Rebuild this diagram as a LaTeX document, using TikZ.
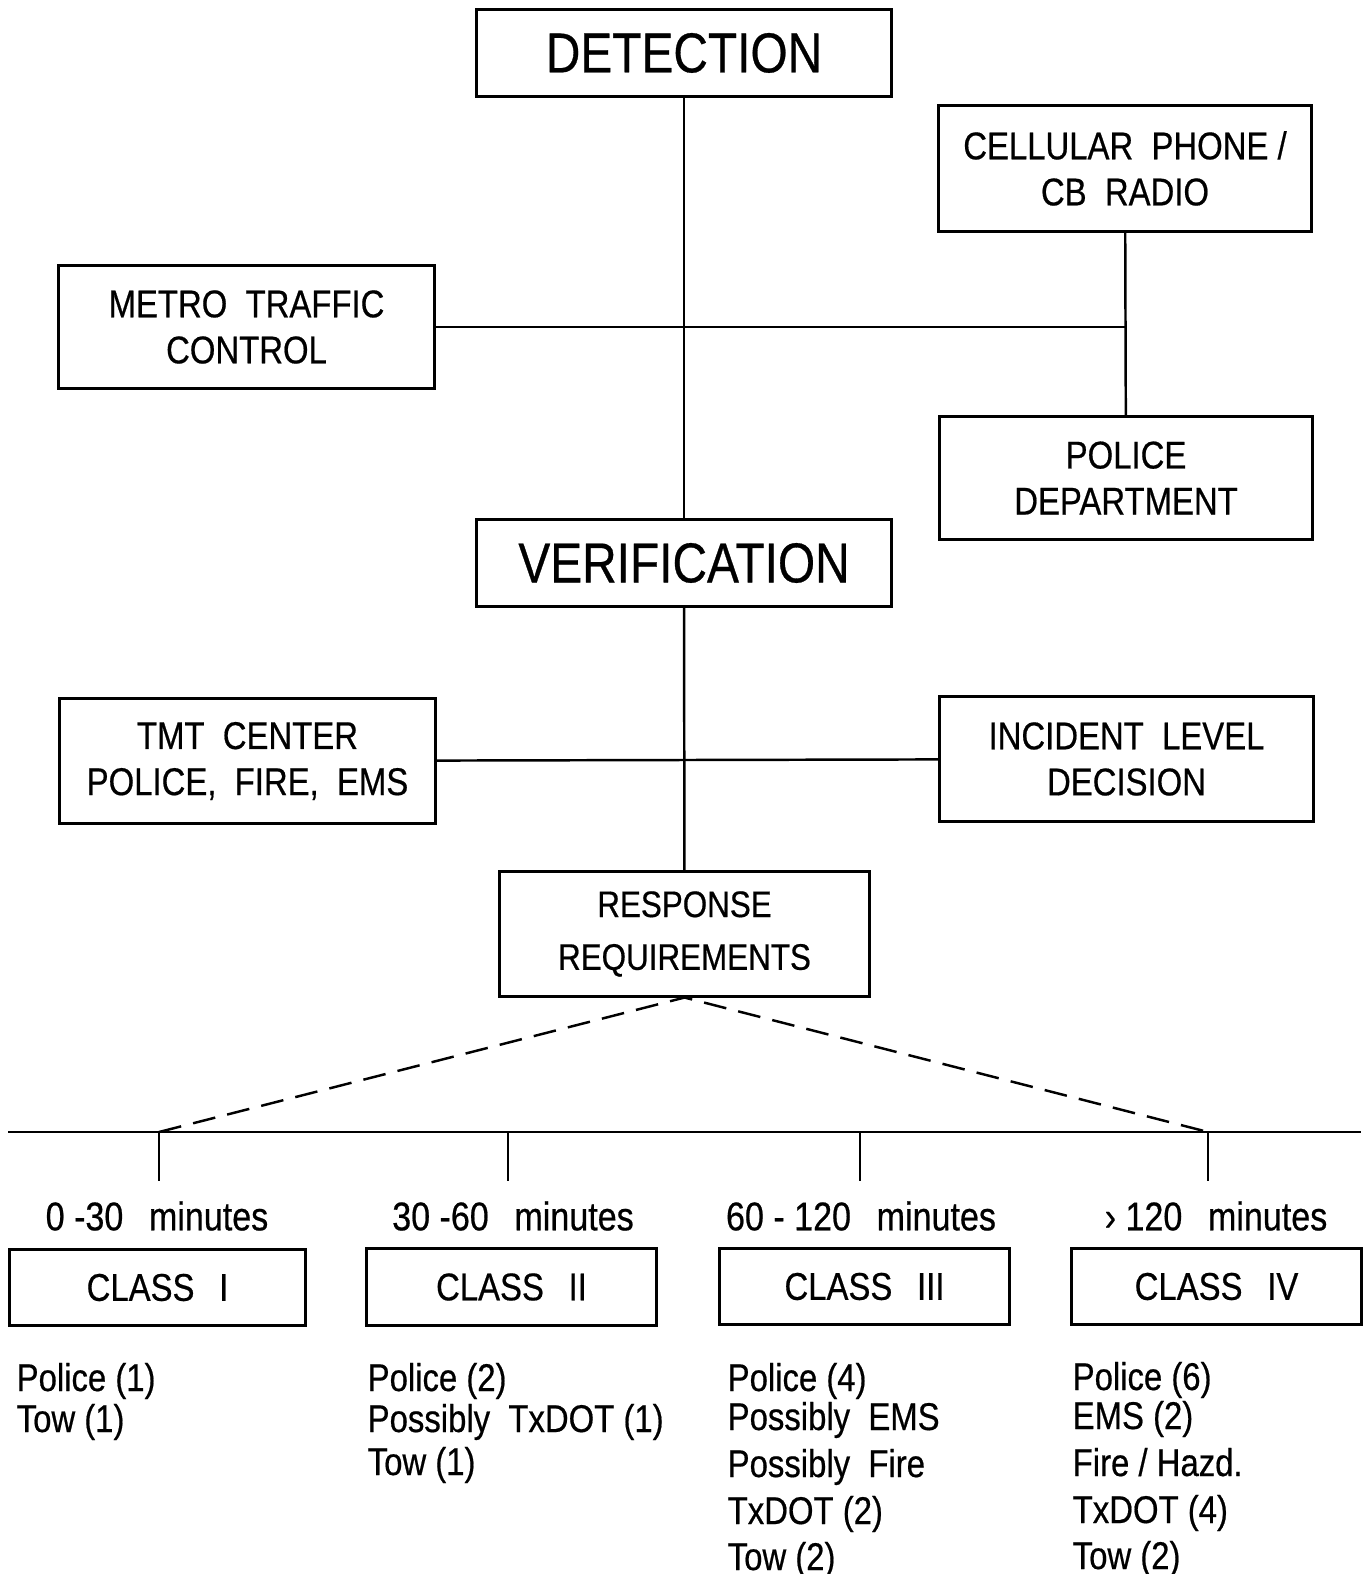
\documentclass[tikz,border=0pt]{standalone}
\usepackage{fontspec}
\setmainfont[FakeStretch=0.85, FakeBold=0.5]{Liberation Sans}
\begin{document}
\begin{tikzpicture}[x=0.01cm, y=-0.01cm,
    every node/.style={font=\fontsize{11}{13.1}\selectfont},
    box/.style={draw, line width=0.85pt, align=center, inner sep=0pt},
    title/.style={font=\fontsize{16}{19}\selectfont},
    item/.style={anchor=base west, inner sep=0pt},
    link/.style={line width=0.7pt}]
  \useasboundingbox (0,0) rectangle (1368,1574);
  \node[box, title, minimum width=4.14cm, minimum height=0.86cm] (det) at (684,53) {DETECTION};
  \node[box, minimum width=3.72cm, minimum height=1.25cm] (cell) at (1125,168.5) {CELLULAR~~PHONE /\\CB~~RADIO};
  \node[box, minimum width=3.75cm, minimum height=1.22cm] (metro) at (246.5,327) {METRO~~TRAFFIC\\CONTROL};
  \node[box, minimum width=3.72cm, minimum height=1.22cm] (pol) at (1126,478) {POLICE\\DEPARTMENT};
  \node[box, title, minimum width=4.15cm, minimum height=0.86cm] (ver) at (684,563) {VERIFICATION};
  \node[box, minimum width=3.75cm, minimum height=1.24cm] (tmt) at (247.5,761) {TMT~~CENTER\\POLICE,~~FIRE,~~EMS};
  \node[box, minimum width=3.73cm, minimum height=1.24cm] (inc) at (1126.5,759) {INCIDENT~~LEVEL\\DECISION};
  \node[box, font=\fontsize{10.5}{15}\selectfont, minimum width=3.69cm, minimum height=1.24cm] (res) at (684.5,934) {RESPONSE\\REQUIREMENTS};

  \coordinate (j1) at (cell.south |- metro.east);
  \draw[link] (det) -- (ver);
  \draw[link] (ver) -- (res);
  \draw[link] (metro.east) -- (j1);
  \draw[link] (cell) -- (pol);
  \draw[link] (tmt) -- (inc);

  % time line
  \coordinate (tl) at (8,1132);
  \coordinate (tr) at (1361,1132);
  \draw[link] (tl) -- (tr);
  \foreach \x/\n in {159/1, 508/2, 860/3, 1208/4} {
    \coordinate (k\n) at (\x,1132);
    \draw[link] (k\n) -- ++(0,49);
  }
  \draw[link, dash pattern=on 6.5pt off 3.5pt] (k1) -- (res.south) -- (k4);

  \node[font=\fontsize{11.4}{13.1}\selectfont] (m1) at (157,1216) {0 -30~~\,minutes};
  \node[font=\fontsize{11.4}{13.1}\selectfont] (m2) at (513,1216) {30 -60~~\,minutes};
  \node[font=\fontsize{11.4}{13.1}\selectfont] (m3) at (861,1216) {60 - 120~~\,minutes};
  \node[font=\fontsize{11.4}{13.1}\selectfont] (m4) at (1216,1216) {› 120~~\,minutes};

  \node[box, minimum width=2.95cm, minimum height=0.75cm] (c1) at (157.5,1287.5) {CLASS~~\,I};
  \node[box, minimum width=2.89cm, minimum height=0.76cm] (c2) at (511.5,1287) {CLASS~~\,II};
  \node[box, minimum width=2.89cm, minimum height=0.75cm] (c3) at (864.5,1286.5) {CLASS~~\,III};
  \node[box, minimum width=2.89cm, minimum height=0.75cm] (c4) at (1216.5,1286.5) {CLASS~~\,IV};

  \node[item] (a1) at (16,1391) {Police (1)};
  \node[item] (a2) at (16,1432) {Tow (1)};
  \node[item] (b1) at (367,1391) {Police (2)};
  \node[item] (b2) at (367,1432) {Possibly~~TxDOT (1)};
  \node[item] (b3) at (367,1475) {Tow (1)};
  \node[item] (d1) at (727,1391) {Police (4)};
  \node[item] (d2) at (727,1430) {Possibly~~EMS};
  \node[item] (d3) at (727,1477) {Possibly~~Fire};
  \node[item] (d4) at (727,1524) {TxDOT (2)};
  \node[item] (d5) at (727,1570) {Tow (2)};
  \node[item] (e1) at (1072,1390) {Police (6)};
  \node[item] (e2) at (1072,1429) {EMS (2)};
  \node[item] (e3) at (1072,1476) {Fire / Hazd.};
  \node[item] (e4) at (1072,1523) {TxDOT (4)};
  \node[item] (e5) at (1072,1569) {Tow (2)};
\end{tikzpicture}
\end{document}
